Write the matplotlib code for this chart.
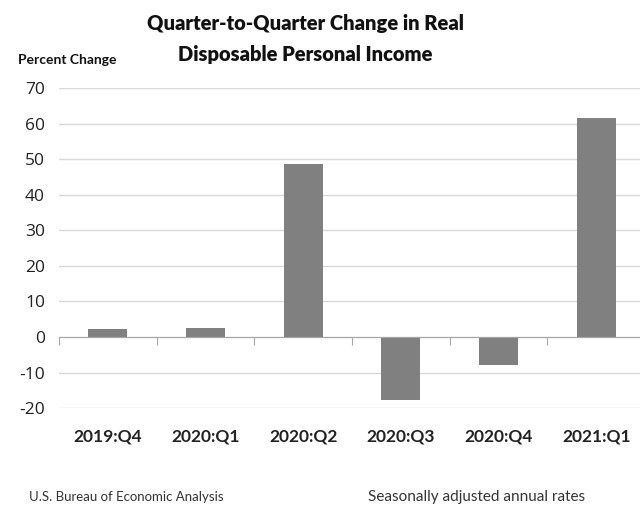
import matplotlib.pyplot as plt
from matplotlib.transforms import blended_transform_factory

# data
quarters = ["2019:Q4", "2020:Q1", "2020:Q2", "2020:Q3", "2020:Q4", "2021:Q1"]
pct_change = [2.1, 2.5, 48.7, -17.6, -7.8, 61.5]
y_ticks = [-20, -10, 0, 10, 20, 30, 40, 50, 60, 70]

plt.rcParams["font.family"] = ["Lato", "DejaVu Sans"]

fig = plt.figure(figsize=(6.4, 5.12), dpi=100)
ax = fig.add_axes([0.092, 0.203, 0.916, 0.625])

x = list(range(len(quarters)))
ax.bar(x, pct_change, width=0.4, color="#808080", zorder=3)

ax.set_xlim(-0.5, len(quarters) - 0.5)
ax.set_ylim(-20, 70)
ax.set_yticks(y_ticks)
ax.set_yticklabels([str(v) for v in y_ticks], fontsize=12.5, color="#222222",
                   family=["Open Sans", "DejaVu Sans"])
ax.tick_params(axis="y", length=0, pad=10)
ax.grid(axis="y", color="#d9d9d9", linewidth=1, zorder=0)

for side in ["top", "right", "left"]:
    ax.spines[side].set_visible(False)
ax.spines["bottom"].set_position(("data", 0))
ax.spines["bottom"].set_color("#a6a6a6")
ax.spines["bottom"].set_zorder(4)

# tick marks between categories, no labels on the axis itself
ax.set_xticks([i - 0.5 for i in x])
ax.set_xticklabels([])
ax.tick_params(axis="x", direction="out", length=6, color="#a6a6a6")

trans = blended_transform_factory(ax.transData, ax.transAxes)
for i, q in zip(x, quarters):
    ax.text(i, -0.09, q, transform=trans, ha="center", va="center",
            fontsize=12.5, fontweight="bold", color="#222222")

fig.text(0.477, 0.955, "Quarter-to-Quarter Change in Real", ha="center", va="center",
         fontsize=14.5, fontweight="heavy", color="#111111")
fig.text(0.477, 0.893, "Disposable Personal Income", ha="center", va="center",
         fontsize=14.5, fontweight="heavy", color="#111111")
fig.text(0.028, 0.883, "Percent Change", ha="left", va="center",
         fontsize=10, fontweight="bold", color="#111111")

fig.text(0.045, 0.03, "U.S. Bureau of Economic Analysis", ha="left", va="center",
         fontsize=9.5, color="#333333")
fig.text(0.575, 0.03, "Seasonally adjusted annual rates", ha="left", va="center",
         fontsize=11, color="#333333")

fig.savefig("out.png", dpi=100)
